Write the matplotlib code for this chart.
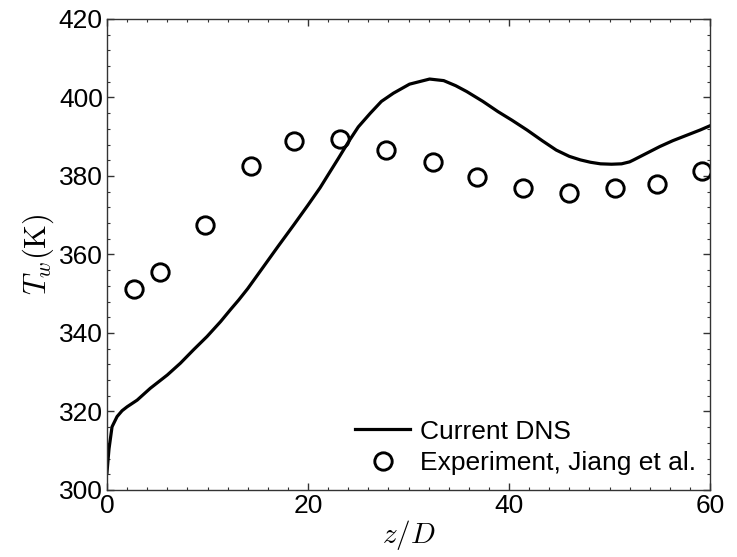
import numpy as np
import matplotlib.pyplot as plt
from matplotlib.ticker import MultipleLocator

# Current DNS wall temperature
dns_z = [0.0, 0.1, 0.2, 0.5, 1.0, 1.5, 2.0, 3.0, 4.3, 6.0, 7.3, 8.6, 9.95, 11.3,
         12.3, 13.1, 14.0, 15.6, 17.0, 18.6, 20.0, 21.2, 22.0, 23.0, 24.0, 25.0,
         26.2, 27.3, 28.5, 30.1, 32.1, 33.5, 34.7, 35.8, 37.4, 38.9, 40.3, 41.8,
         43.3, 44.7, 46.0, 47.1, 48.1, 49.1, 50.2, 51.2, 52.0, 52.4, 53.7, 55.0,
         56.3, 57.7, 59.0, 60.0]
dns_T = [304.5, 307.6, 310.5, 316.1, 318.7, 320.2, 321.2, 322.9, 325.9, 329.3, 332.3,
         335.7, 339.1, 342.9, 346.0, 348.4, 351.3, 357.0, 362.0, 367.6, 372.6, 377.0,
         380.3, 384.4, 388.6, 392.5, 396.0, 399.0, 401.1, 403.4, 404.7, 404.3, 403.0,
         401.5, 399.0, 396.4, 394.2, 391.7, 389.0, 386.6, 385.0, 384.1, 383.5, 383.1,
         383.0, 383.1, 383.6, 384.1, 385.8, 387.5, 389.0, 390.4, 391.7, 392.8]

# Experiment, Jiang et al.
exp_z = [2.72, 5.3, 9.78, 14.36, 18.64, 23.18, 27.8, 32.4, 36.8, 41.4, 45.97, 50.5, 54.76, 59.2]
exp_T = [351.1, 355.5, 367.5, 382.6, 389.0, 389.35, 386.6, 383.6, 379.7, 376.9, 375.7, 376.9, 378.0, 381.2]

plt.rcParams['font.family'] = ['Liberation Sans', 'DejaVu Sans']
plt.rcParams['mathtext.fontset'] = 'cm'

fig = plt.figure(figsize=(7.37, 5.57), dpi=100)
ax = fig.add_axes([0.1452, 0.1203, 0.8182, 0.8456])

ax.plot(dns_z, dns_T, color='black', lw=2.3, label='Current DNS')
ax.plot(exp_z, exp_T, 'o', mfc='none', mec='black', ms=12.5, mew=2.1,
        label='Experiment, Jiang et al.')

ax.set_xlim(0, 60)
ax.set_ylim(300, 420)
ax.xaxis.set_major_locator(MultipleLocator(20))
ax.xaxis.set_minor_locator(MultipleLocator(2))
ax.yaxis.set_major_locator(MultipleLocator(20))
ax.yaxis.set_minor_locator(MultipleLocator(4))
ax.tick_params(which='both', direction='in', top=True, right=True, labelsize=19,
               color='#333333', pad=3)
ax.tick_params(which='major', length=5, width=1)
ax.tick_params(which='minor', length=2.5, width=0.8)
for s in ax.spines.values():
    s.set_color('#333333')
    s.set_linewidth(1.0)

ax.set_xlabel(r'$z/D$', fontsize=21, labelpad=0)
ax.set_ylabel(r'$T_w(\mathrm{K})$', fontsize=22, labelpad=2)

ax.legend(loc='lower right', frameon=False, fontsize=19, handlelength=2.1,
          handletextpad=0.35, labelspacing=0.3, borderaxespad=0.15)

plt.savefig('out.png', dpi=100)
